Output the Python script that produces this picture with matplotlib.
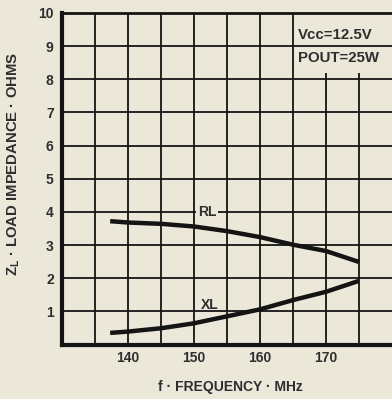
import matplotlib
matplotlib.use("Agg")
import matplotlib.pyplot as plt

# Load impedance vs frequency (Vcc = 12.5 V, Pout = 25 W)
freq_mhz = [137.3, 140, 145, 150, 155, 160, 165, 170, 175]
rl_ohms = [3.72, 3.68, 3.64, 3.56, 3.42, 3.24, 3.01, 2.82, 2.49]
xl_ohms = [0.35, 0.39, 0.49, 0.64, 0.85, 1.06, 1.34, 1.59, 1.92]

x_ticks = [140, 150, 160, 170]
x_tick_labels = ["140", "150", "160", "170"]
y_ticks = [1, 2, 3, 4, 5, 6, 7, 8, 9, 10]
y_tick_labels = ["1", "2", "3", "4", "5", "6", "7", "8", "9", "10"]

bg = "#ebe8da"
ink = "#141414"
txt = "#2e2e2e"
font = "Liberation Sans"

fig = plt.figure(figsize=(3.92, 3.99), dpi=100, facecolor=bg)
ax = fig.add_axes([62 / 392, 1 - 344.5 / 399, 1 - 62 / 392, (344.5 - 13) / 399])
ax.set_facecolor(bg)
ax.set_xlim(130, 180)
ax.set_ylim(0, 10)

# grid drawn by hand so it can stop under the conditions box
for xv in range(135, 180, 5):
    top = 8.2 if xv >= 170 else 10
    ax.vlines(xv, 0, top, color=ink, lw=1.3, zorder=1)
for yv in range(1, 10):
    ax.hlines(yv, 130, 180, color=ink, lw=1.3, zorder=1)

ax.plot(freq_mhz, rl_ohms, color=ink, lw=3.2, solid_capstyle="butt", zorder=3)
ax.plot(freq_mhz, xl_ohms, color=ink, lw=3.2, solid_capstyle="butt", zorder=3)

ax.text(152.0, 4.0, "RL", ha="center", va="center", fontsize=10, fontweight="bold",
        family=font, color=txt, zorder=4,
        bbox=dict(boxstyle="square,pad=0.15", fc=bg, ec="none"))
ax.text(152.4, 1.2, "XL", ha="center", va="center", fontsize=10, fontweight="bold",
        family=font, color=txt, zorder=4)

ax.text(165.7, 9.35, "Vcc=12.5V", ha="left", va="center", fontsize=10.8,
        fontweight="bold", family=font, color=txt)
ax.text(165.7, 8.64, "POUT=25W", ha="left", va="center", fontsize=10.8,
        fontweight="bold", family=font, color=txt)

for side in ("left", "bottom"):
    ax.spines[side].set_linewidth(3)
    ax.spines[side].set_color(ink)
ax.spines["top"].set_linewidth(2)
ax.spines["top"].set_color(ink)
ax.spines["right"].set_visible(False)

ax.set_xticks(x_ticks)
ax.set_xticklabels(x_tick_labels)
ax.set_yticks(y_ticks)
ax.set_yticklabels(y_tick_labels)
ax.tick_params(axis="x", length=0, pad=5, labelsize=10, labelcolor=txt)
ax.tick_params(axis="y", length=0, pad=6, labelsize=10, labelcolor=txt)
for lab in ax.get_xticklabels() + ax.get_yticklabels():
    lab.set_fontweight("bold")
    lab.set_family(font)

fig.text(14 / 392, 1 - 164 / 399, "Z$_\\mathregular{L}$ · LOAD IMPEDANCE · OHMS",
         rotation=90, ha="center", va="center", fontsize=10.7, fontweight="bold",
         family=font, color=txt)
fig.text(230 / 392, 1 - 387 / 399, "f · FREQUENCY · MHz", ha="center", va="center",
         fontsize=10, fontweight="bold", family=font, color=txt)

fig.savefig("out.png", dpi=100, facecolor=bg)
